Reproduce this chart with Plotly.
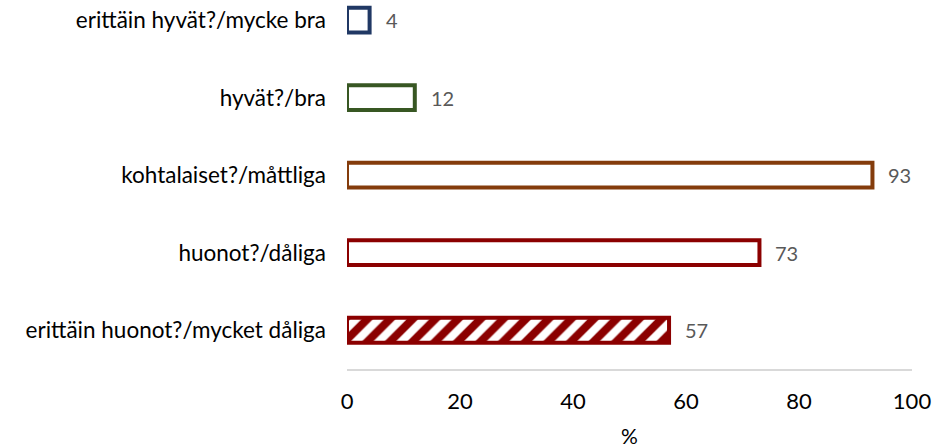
import plotly.graph_objects as go

categories = ["erittäin hyvät?/mycke bra", "hyvät?/bra", "kohtalaiset?/måttliga",
              "huonot?/dåliga", "erittäin huonot?/mycket dåliga"]
values = [4, 12, 93, 73, 57]
line_colors = ["#203864", "#385723", "#843C0C", "#8B0000", "#8B0000"]
patterns = ["", "", "", "", "/"]
x_ticks = [0, 20, 40, 60, 80, 100]

FONT = "Lato"

fig = go.Figure()
fig.add_trace(go.Bar(
    x=values, y=categories, orientation="h",
    width=0.32,
    marker=dict(
        color="white",
        line=dict(color=line_colors, width=4),
        pattern=dict(shape=patterns, fgcolor="#8B0000", bgcolor="white",
                     fgopacity=1, size=16, solidity=0.5, fillmode="overlay"),
    ),
    hoverinfo="skip",
))

for c, v in zip(categories, values):
    fig.add_annotation(x=v, y=c, text=str(v), showarrow=False,
                       xanchor="left", xshift=14,
                       font=dict(family=FONT, size=20, color="#595959"))

fig.update_layout(
    width=948, height=448,
    margin=dict(l=347, r=36, t=0, b=79, autoexpand=False),
    plot_bgcolor="white", paper_bgcolor="white",
    showlegend=False,
    font=dict(family=FONT, size=22, color="#000000"),
    xaxis=dict(range=[0, 100], tickvals=x_ticks, showgrid=False, zeroline=False,
               showline=True, linecolor="#D9D9D9", linewidth=1.5,
               ticks="", ticklabelstandoff=12, automargin=False,
               tickfont=dict(family=FONT, size=22, color="#000000"),
               title=dict(text="%", font=dict(family=FONT, size=21, color="#000000"),
                          standoff=18)),
    yaxis=dict(categoryorder="array", categoryarray=categories,
               range=[4.5, -0.26], showgrid=False, zeroline=False, showline=False,
               ticks="", ticklabelstandoff=20, automargin=False,
               tickfont=dict(family=FONT, size=22.5, color="#000000")),
)

fig.write_html("out.html",
               config={"displayModeBar": False},
               post_script="document.body.style.margin='0';document.body.style.overflow='hidden';")
